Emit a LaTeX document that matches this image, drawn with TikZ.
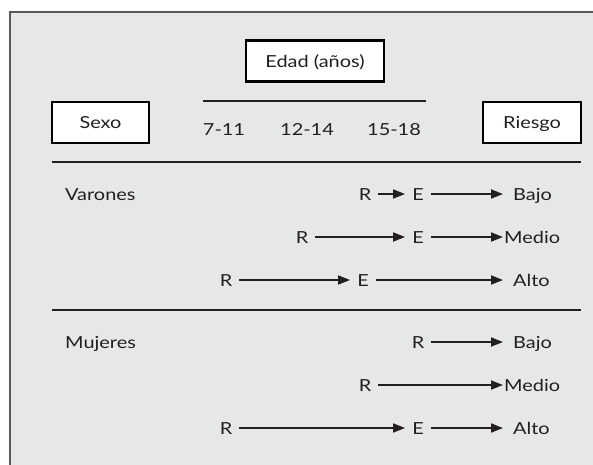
\documentclass[tikz,border=0pt]{standalone}
\usepackage{fontspec}
\setmainfont{Lato}[FakeStretch=1.2]
\usepackage{xcolor}
\usepackage{tikz}
\usetikzlibrary{positioning,arrows.meta}
\definecolor{panelgray}{RGB}{230,231,233}
\definecolor{inkgray}{RGB}{35,31,32}

\begin{document}
\begin{tikzpicture}[x=1pt, y=-1pt,
  headbox/.style={draw=black, fill=white, line width=2.4pt, minimum height=41pt, inner ysep=0pt, text height=12pt, text depth=0pt, text=inkgray, font=\fontsize{16.6}{19}\selectfont},
  tag/.style={inner xsep=7pt, inner ysep=0pt, text height=12pt, text depth=0pt, text=inkgray, font=\fontsize{16.6}{19}\selectfont},
  outcome/.style={tag, anchor=west, inner xsep=10pt},
  flow/.style={draw=inkgray, line width=1.8pt, -{Triangle[length=12pt, width=9pt]}},
  divider/.style={draw=inkgray, line width=1.6pt}]

\useasboundingbox (0,0) rectangle (593,464);
\fill[white] (0,0) rectangle (593,464);
\filldraw[fill=panelgray, draw=black!65, line width=1.2pt] (10,12) rectangle (610,480);

% header
\node[headbox, minimum width=138pt] at (315, 61) (edad) {Edad (años)};
\node[headbox, minimum width=97pt] at (100.5, 122.5) (sexo) {Sexo};
\node[headbox, minimum width=98pt] at (532, 122.5) (riesgo) {Riesgo};
\node[tag] at (224, 129) (a1) {7-11};
\node[tag] at (307, 129) (a2) {12-14};
\node[tag] at (394, 129) (a3) {15-18};
\draw[divider] (203, 101) -- (426, 101);
\draw[divider] (52, 162) -- (581, 162);
\draw[divider] (52, 310) -- (581, 310);

% varones
\node[tag, anchor=west, inner xsep=0pt] at (65, 194) (var) {Varones};
\node[tag] at (365, 194) (vr1) {R};
\node[tag] at (418, 194) (ve1) {E};
\node[outcome] at (503, 194) (vb) {Bajo};
\node[tag] at (302, 237) (vr2) {R};
\node[tag] at (418, 237) (ve2) {E};
\node[outcome, inner xsep=1pt] at (503, 237) (vm) {Medio};
\node[tag] at (226, 280) (vr3) {R};
\node[tag] at (363, 280) (ve3) {E};
\node[outcome] at (503, 280) (va) {Alto};
\draw[flow] (vr1) -- (ve1);
\draw[flow] (ve1) -- (vb);
\draw[flow] (vr2) -- (ve2);
\draw[flow] (ve2) -- (vm);
\draw[flow] (vr3) -- (ve3);
\draw[flow] (ve3) -- (va);

% mujeres
\node[tag, anchor=west, inner xsep=0pt] at (65, 342) (muj) {Mujeres};
\node[tag] at (418, 342) (mr1) {R};
\node[outcome] at (503, 342) (mb) {Bajo};
\node[tag] at (365, 385) (mr2) {R};
\node[outcome, inner xsep=1pt] at (503, 385) (mm) {Medio};
\node[tag] at (226, 428) (mr3) {R};
\node[tag] at (418, 428) (me3) {E};
\node[outcome] at (503, 428) (ma) {Alto};
\draw[flow] (mr1) -- (mb);
\draw[flow] (mr2) -- (mm);
\draw[flow] (mr3) -- (me3);
\draw[flow] (me3) -- (ma);

\end{tikzpicture}
\end{document}
